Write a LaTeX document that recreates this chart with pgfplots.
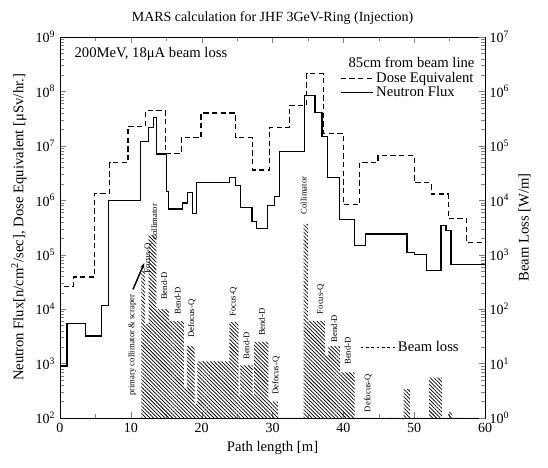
\documentclass[border=0pt]{standalone}
\usepackage{pgfplots}
\pgfplotsset{compat=1.18}
\usepackage{fontspec}
\setmainfont{Liberation Serif}
\usetikzlibrary{patterns.meta, arrows.meta}

\begin{document}
\begin{tikzpicture}
\begin{axis}[
  name=main,
  scale only axis, width=318.75pt, height=285.75pt,
  xmin=0, xmax=60,
  ymode=log, log basis y=10, ymin=1e2, ymax=1e9,
  xtick={0,10,...,60}, minor xtick={5,15,...,55},
  ytick={1e2,1e3,1e4,1e5,1e6,1e7,1e8,1e9},
  yticklabels={10\textsuperscript{2},10\textsuperscript{3},10\textsuperscript{4},10\textsuperscript{5},10\textsuperscript{6},10\textsuperscript{7},10\textsuperscript{8},10\textsuperscript{9}},
  minor ytick={2e2,3e2,4e2,5e2,6e2,7e2,8e2,9e2,2e3,3e3,4e3,5e3,6e3,7e3,8e3,9e3,2e4,3e4,4e4,5e4,6e4,7e4,8e4,9e4,2e5,3e5,4e5,5e5,6e5,7e5,8e5,9e5,2e6,3e6,4e6,5e6,6e6,7e6,8e6,9e6,2e7,3e7,4e7,5e7,6e7,7e7,8e7,9e7,2e8,3e8,4e8,5e8,6e8,7e8,8e8,9e8},
  ytick pos=left,
  /pgf/number format/assume math mode=true,
  tick label style={font=\fontsize{10.5}{12}\selectfont},
  label style={font=\fontsize{11}{13}\selectfont},
  title style={font=\fontsize{10.5}{12}\selectfont},
  xlabel={Path length [m]},
  ylabel={Neutron Flux[n/cm\textsuperscript{2}/sec], Dose Equivalent [μSv/hr.]},
  title={MARS calculation for JHF 3GeV-Ring (Injection)},
  legend style={draw=none, fill=none, at={(0.983,0.918)}, anchor=north east,
    font=\fontsize{11}{12}\selectfont, row sep=-3pt, inner sep=1pt},
  legend cell align=left,
  legend image code/.code={\draw[#1] (0cm,0cm) -- (0.85cm,0cm);},
]
\addplot[const plot, black, line width=0.9pt, dash pattern=on 4pt off 2.5pt] coordinates {
(0.5,2.6e4) (1.9,3.9e4) (4.9,1.35e6) (7.0,4.9e6) (9.6,2.3e7) (12.1,4.4e7)
(14.9,7.2e6) (17.1,1.4e7) (19.9,4.0e7) (24.8,1.4e7) (27.2,3.6e6) (29.6,2.2e7)
(32.4,5.6e7) (34.8,2.1e8) (37.2,1.7e7) (40.0,8.3e5) (42.3,5.0e6) (44.9,6.6e6)
(50.0,2.1e6) (52.4,1.3e6) (54.8,4.6e5) (57.4,1.66e5) (60,1.66e5)
};
\addlegendentry{Dose Equivalent}
\addplot[const plot, black, line width=0.9pt] coordinates {
(0,900) (1.0,5500) (3.6,3200) (5.9,11500) (6.8,9.8e5) (11.4,1.2e7) (12.5,2.2e7)
(13.2,3.3e7) (13.6,7.1e6) (15.0,1.45e6) (15.3,6.9e5) (17.3,8.9e5) (18.0,1.4e6)
(18.7,5.8e5) (19.3,2.1e6) (23.9,2.6e6) (24.8,1.9e6) (25.5,7.4e5) (27.1,4.1e5)
(27.7,3.0e5) (29.3,7.9e5) (30.3,1.17e6) (31.0,7.9e6) (34.5,8.3e7) (36.0,4.1e7)
(37.0,1.5e7) (37.8,2.6e6) (39.5,4.4e5) (41.6,1.5e5) (43.1,2.4e5) (49.0,1.1e5)
(50.0,1.0e5) (51.7,5.1e4) (53.8,3.4e5) (54.5,2.75e5) (55.2,6.6e4) (60,6.6e4)
};
\addlegendentry{Neutron Flux}
\node[anchor=west, font=\fontsize{11}{12}\selectfont] at (axis cs:1.4,4.8e8) {200MeV, 18μA beam loss};
\node[anchor=west, font=\fontsize{11}{12}\selectfont] at (rel axis cs:0.668,0.934) {85cm from beam line};
\end{axis}

\begin{axis}[
  at={(main.south west)}, anchor=south west,
  scale only axis, width=318.75pt, height=285.75pt,
  xmin=0, xmax=60,
  ymode=log, log basis y=10, ymin=1, ymax=1e7,
  axis y line*=right, axis x line=none,
  ytick={1,1e1,1e2,1e3,1e4,1e5,1e6,1e7},
  yticklabels={10\textsuperscript{0},10\textsuperscript{1},10\textsuperscript{2},10\textsuperscript{3},10\textsuperscript{4},10\textsuperscript{5},10\textsuperscript{6},10\textsuperscript{7}},
  minor ytick={2,3,4,5,6,7,8,9,20,30,40,50,60,70,80,90,2e2,3e2,4e2,5e2,6e2,7e2,8e2,9e2,2e3,3e3,4e3,5e3,6e3,7e3,8e3,9e3,2e4,3e4,4e4,5e4,6e4,7e4,8e4,9e4,2e5,3e5,4e5,5e5,6e5,7e5,8e5,9e5,2e6,3e6,4e6,5e6,6e6,7e6,8e6,9e6},
  tick label style={font=\fontsize{10.5}{12}\selectfont},
  label style={font=\fontsize{11}{13}\selectfont},
  ylabel={Beam Loss [W/m]},
  legend style={draw=none, fill=none, at={(0.703,0.186)}, anchor=west,
    font=\fontsize{11}{12}\selectfont, inner sep=1pt},
  legend image code/.code={\draw[#1] (0cm,0cm) -- (0.9cm,0cm);},
  clip=false,
]
\addplot[const plot, draw=none, pattern={Lines[angle=135,distance=2pt,line width=0.55pt]}, pattern color=black, forget plot] coordinates {
(11.5,1) (11.5,500) (12.0,53) (12.5,2300) (13.6,100) (15.4,60) (17.5,3.5) (17.9,21)
(19.0,1.8) (19.4,11) (23.9,58) (25.2,2.5) (25.4,9.3) (27.2,2.5) (27.4,25) (29.4,2.1)
(29.8,2.0) (30.8,1) (34.4,3700) (35.0,61) (37.4,14) (37.9,21) (39.5,6.9) (41.6,1)
(48.5,3.4) (49.4,1) (52.1,5.5) (53.9,1) (54.8,1.3) (55.4,1) (60,1)
} \closedcycle;
\addlegendimage{black, line width=0.6pt, dash pattern=on 2pt off 2pt}
\addlegendentry{Beam loss}
\begin{scope}[every node/.style={rotate=90, anchor=west, font=\fontsize{6.5}{7}\selectfont, inner sep=1pt}]
\node at (axis cs:10.2,2.4) {primary collimator \& scraper};
\node at (axis cs:12.4,430) {Focus-Q};
\node at (axis cs:13.3,1780) {collimator};
\node at (axis cs:14.7,138) {Bend-D};
\node at (axis cs:16.6,74) {Bend-D};
\node at (axis cs:18.6,28) {Defocus-Q};
\node at (axis cs:24.5,68) {Focus-Q};
\node at (axis cs:26.3,11) {Bend-D};
\node at (axis cs:28.5,30) {Bend-D};
\node at (axis cs:30.5,2.5) {Defocus-Q};
\node at (axis cs:34.4,5200) {Collimator};
\node at (axis cs:36.8,76) {Focus-Q};
\node at (axis cs:38.7,23) {Bend-D};
\node at (axis cs:40.6,8.9) {Bend-D};
\node at (axis cs:43.5,1.2) {Defocus-Q};
\end{scope}
\draw[-{Stealth[length=4pt]}, line width=1.1pt] (axis cs:10.3,230) -- (axis cs:11.9,700);
\end{axis}
\pgfresetboundingbox
\path[use as bounding box] ([shift={(-45pt,-37.5pt)}]main.south west) rectangle ([shift={(47.25pt,27.75pt)}]main.north east);
\end{tikzpicture}
\end{document}
